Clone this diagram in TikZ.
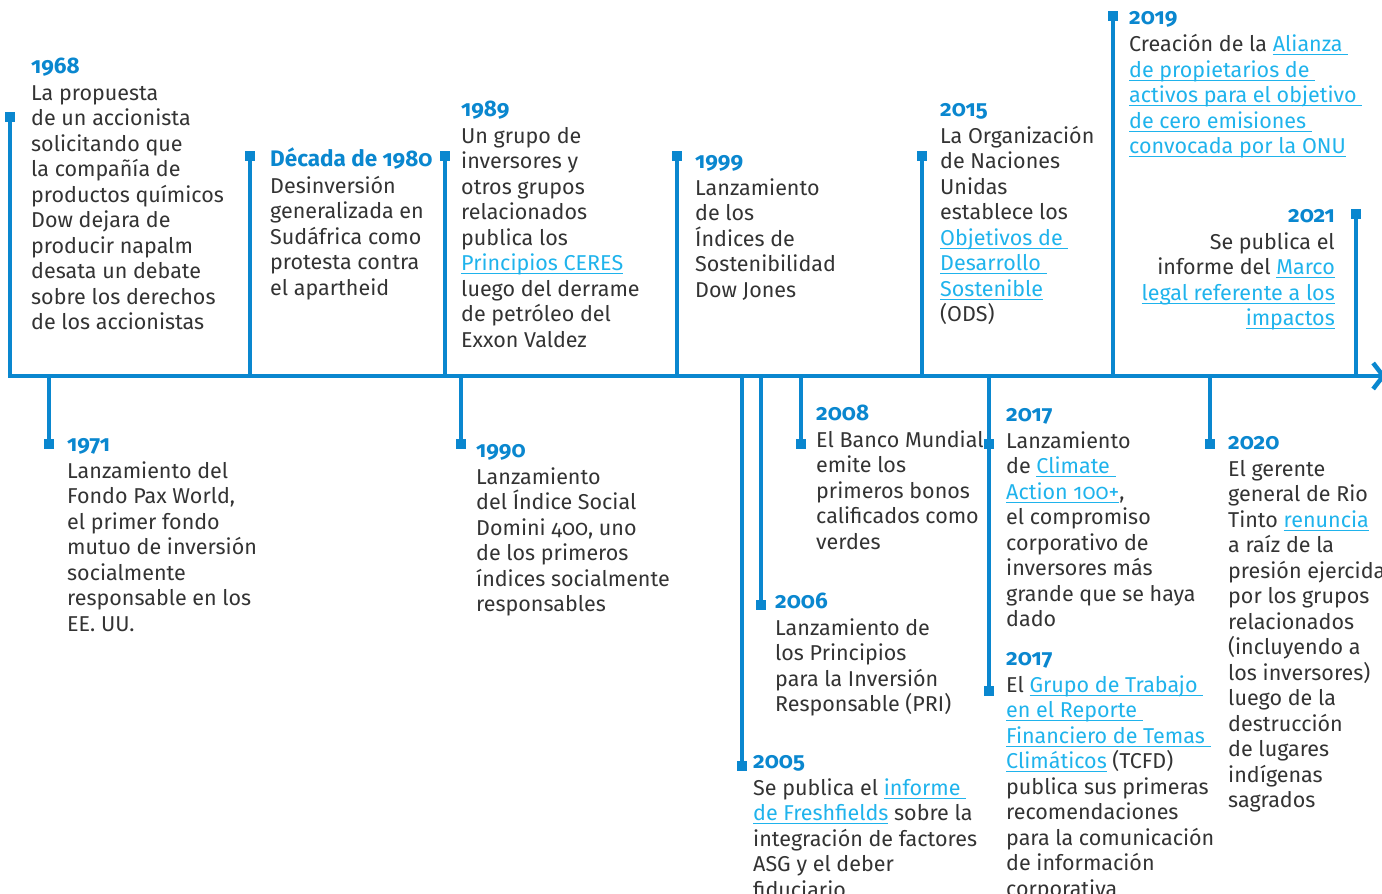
\documentclass[tikz,border=0pt]{standalone}
\usepackage{fontspec}
\setmainfont{Fira Sans}[Numbers=OldStyle]
\usetikzlibrary{arrows.meta}
\definecolor{tlblue}{HTML}{0A87CF}
\definecolor{linkc}{HTML}{1FB3EC}
\definecolor{txt}{HTML}{333333}
\tikzset{axis/.style={tlblue,line width=4.5pt},
         stem/.style={tlblue,line width=3.3pt},
         sq/.style={fill=tlblue,minimum size=10.5pt,inner sep=0pt},
         ev/.style={anchor=north west,align=left,inner sep=0pt,text=txt,font=\fontsize{21.5}{25.5}\selectfont},
         evr/.style={ev,anchor=north east,align=right}
}
\newcommand{\yr}[1]{\strut\textcolor{tlblue}{\fontsize{22.5}{25.5}\selectfont\textbf{#1}}}
\newcommand{\lk}[1]{\textcolor{linkc}{\setbox0\hbox{#1}\rlap{\rule[-3.5pt]{\wd0}{1.2pt}}\box0}}
\begin{document}
\begin{tikzpicture}[x=1pt,y=-1pt]
\useasboundingbox (0,0) rectangle (1382,894);
\coordinate (ax) at (0,376);
\coordinate (axend) at (1386,376);

\node[sq] (m1968) at (10,117) {};
\node[sq] (m1980) at (250,156) {};
\node[sq] (m1989) at (445,156) {};
\node[sq] (m1999) at (677,156) {};
\node[sq] (m2015) at (922,156) {};
\node[sq] (m2019) at (1113,16) {};
\node[sq] (m2021) at (1356,214) {};
\node[sq] (m1971) at (49,444) {};
\node[sq] (m1990) at (461,444) {};
\node[sq] (m2005) at (742,766) {};
\node[sq] (m2006) at (761,605) {};
\node[sq] (m2008) at (801,444) {};
\node[sq] (m2017a) at (989,444) {};
\node[sq] (m2017b) at (989,691) {};
\node[sq] (m2020) at (1210,444) {};

\foreach \m in {m1968,m1980,m1989,m1999,m2015,m2019,m2021,m1971,m1990,m2005,m2006,m2008,m2017b,m2020}
  \draw[stem] (\m) -- (\m |- ax);
\draw[axis,-{Straight Barb[length=10pt,width=26pt]}] (m1968 |- ax) ++(-1.7,0) -- (axend);

\node[ev] (t1968) at (31,55.2) {\yr{1968}\\[1.5pt]La propuesta\\de un accionista\\solicitando que\\la compañía de\\productos químicos\\Dow dejara de\\producir napalm\\desata un debate\\sobre los derechos\\de los accionistas};
\node[ev] (t1980) at (270,147.2) {\yr{Década de 1980}\\[1.5pt]Desinversión\\generalizada en\\Sudáfrica como\\protesta contra\\el apartheid};
\node[ev] (t1989) at (461,98.2) {\yr{1989}\\[1.5pt]Un grupo de\\inversores y\\otros grupos\\relacionados\\publica los\\\lk{Principios CERES}\\luego del derrame\\de petróleo del\\Exxon Valdez};
\node[ev] (t1999) at (695,150.2) {\yr{1999}\\[1.5pt]Lanzamiento\\de los\\Índices de\\Sostenibilidad\\Dow Jones};
\node[ev] (t2015) at (940,98.2) {\yr{2015}\\[1.5pt]La Organización\\de Naciones\\Unidas\\establece los\\\lk{Objetivos de }\\\lk{Desarrollo }\\\lk{Sostenible}\\(ODS)};
\node[ev] (t2019) at (1129,6.7) {\yr{2019}\\[1.5pt]Creación de la \lk{Alianza }\\\lk{de propietarios de }\\\lk{activos para el objetivo }\\\lk{de cero emisiones }\\\lk{convocada por la ONU}};
\node[evr] (t2021) at (1335,204.2) {\yr{2021}\\[1.5pt]Se publica el\\informe del \lk{Marco}\\\lk{legal referente a los}\\\lk{impactos}};

\node[ev] (t1971) at (67,433.2) {\yr{1971}\\[1.5pt]Lanzamiento del\\Fondo Pax World,\\el primer fondo\\mutuo de inversión\\socialmente\\responsable en los\\EE. UU.};
\node[ev] (t1990) at (476,439.2) {\yr{1990}\\[1.5pt]Lanzamiento\\del Índice Social\\Domini 400, uno\\de los primeros\\índices socialmente\\responsables};
\node[ev] (t2005) at (753,750.2) {\yr{2005}\\[1.5pt]Se publica el \lk{informe }\\\lk{de Freshfields} sobre la\\integración de factores\\ASG y el deber\\fiduciario};
\node[ev] (t2006) at (775,590.2) {\yr{2006}\\[1.5pt]Lanzamiento de\\los Principios\\para la Inversión\\Responsable (PRI)};
\node[ev] (t2008) at (816,402.2) {\yr{2008}\\[1.5pt]El Banco Mundial\\emite los\\primeros bonos\\calificados como\\verdes};
\node[ev] (t2017a) at (1006,403.2) {\yr{2017}\\[1.5pt]Lanzamiento\\de \lk{Climate }\\\lk{Action 100+},\\el compromiso\\corporativo de\\inversores más\\grande que se haya\\dado};
\node[ev] (t2017b) at (1006,647.2) {\yr{2017}\\[1.5pt]El \lk{Grupo de Trabajo }\\\lk{en el Reporte }\\\lk{Financiero de Temas }\\\lk{Climáticos} (TCFD)\\publica sus primeras\\recomendaciones\\para la comunicación\\de información\\corporativa};
\node[ev] (t2020) at (1228,431.2) {\yr{2020}\\[1.5pt]El gerente\\general de Rio\\Tinto \lk{renuncia}\\a raíz de la\\presión ejercida\\por los grupos\\relacionados\\(incluyendo a\\los inversores)\\luego de la\\destrucción\\de lugares\\indígenas\\sagrados};
\end{tikzpicture}
\end{document}
